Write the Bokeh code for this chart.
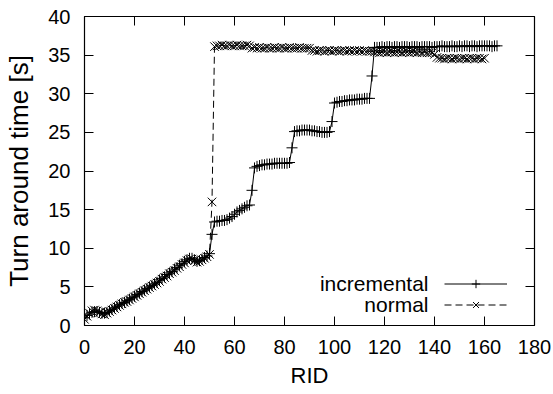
from bokeh.plotting import figure
from bokeh.models import (Range1d, FixedTicker, LinearAxis, Legend, LegendItem,
                          CustomJSTickFormatter, Label)
from bokeh.embed import file_html
from bokeh.resources import INLINE

# ---- data ----
incremental = [
    1.0, 1.3, 1.5, 1.7, 1.8, 1.8, 1.7, 1.6, 1.6, 1.7,          # 0-9
    1.9, 2.1, 2.3, 2.5, 2.7, 2.9, 3.0, 3.2, 3.4, 3.6,          # 10-19
    3.8, 4.0, 4.2, 4.4, 4.6, 4.8, 5.0, 5.2, 5.4, 5.6,          # 20-29
    5.9, 6.1, 6.3, 6.6, 6.8, 7.0, 7.3, 7.5, 7.8, 8.0,          # 30-39
    8.3, 8.5, 8.7, 8.7, 8.5, 8.3, 8.4, 8.6, 8.8, 9.0,          # 40-49
    9.3, 11.8, 13.4, 13.5, 13.5, 13.6, 13.6, 13.7, 13.9, 14.1,  # 50-59
    14.4, 14.7, 14.9, 15.1, 15.3, 15.5, 15.6, 17.5, 20.4, 20.6,  # 60-69
    20.7, 20.8, 20.8, 20.9, 20.9, 20.9, 21.0, 21.0, 21.0, 21.0,  # 70-79
    21.0, 21.0, 21.1, 23.0, 25.1, 25.2, 25.2, 25.3, 25.3, 25.3,  # 80-89
    25.3, 25.2, 25.2, 25.1, 25.1, 25.0, 25.0, 25.0, 25.1, 26.4,  # 90-99
    28.8, 28.9, 29.0, 29.0, 29.1, 29.1, 29.2, 29.2, 29.2, 29.3,  # 100-109
    29.3, 29.3, 29.4, 29.4, 29.4, 32.3, 36.0, 36.0, 36.0, 36.1,  # 110-119
    36.0, 36.1, 36.1, 36.0, 36.1, 36.1, 36.0, 36.1, 36.1, 36.1,  # 120-129
    36.0, 36.1, 36.1, 36.1, 36.0, 36.1, 36.1, 36.1, 36.1, 36.0,  # 130-139
    36.1, 36.1, 36.1, 36.2, 36.1, 36.1, 36.1, 36.2, 36.1, 36.1,  # 140-149
    36.2, 36.1, 36.2, 36.2, 36.1, 36.2, 36.2, 36.1, 36.2, 36.2,  # 150-159
    36.2, 36.2, 36.2, 36.1, 36.2, 36.2,                          # 160-165
]
normal = [
    0.8, 1.2, 1.6, 1.9, 2.0, 1.9, 1.7, 1.5, 1.4, 1.6,          # 0-9
    1.8, 2.0, 2.2, 2.4, 2.6, 2.8, 3.0, 3.1, 3.3, 3.5,          # 10-19
    3.7, 3.9, 4.1, 4.3, 4.5, 4.7, 4.9, 5.1, 5.3, 5.5,          # 20-29
    5.7, 6.0, 6.2, 6.4, 6.7, 6.9, 7.1, 7.4, 7.6, 7.9,          # 30-39
    8.1, 8.4, 8.6, 8.6, 8.4, 8.2, 8.3, 8.5, 8.7, 8.9,          # 40-49
    9.2, 16.0, 36.1, 36.2, 36.2, 36.3, 36.2, 36.2, 36.3, 36.2,  # 50-59
    36.2, 36.3, 36.2, 36.2, 36.2, 36.3, 36.2, 35.9, 36.0, 35.9,  # 60-69
    36.0, 35.9, 35.9, 36.0, 35.9, 35.9, 36.0, 35.9, 35.9, 36.0,  # 70-79
    35.9, 35.9, 36.0, 35.9, 35.9, 35.9, 36.0, 35.9, 35.9, 35.9,  # 80-89
    35.9, 35.6, 35.6, 35.5, 35.6, 35.6, 35.5, 35.6, 35.6, 35.5,  # 90-99
    35.6, 35.6, 35.5, 35.6, 35.6, 35.5, 35.6, 35.5, 35.6, 35.5,  # 100-109
    35.6, 35.5, 35.6, 35.5, 35.5, 35.5, 35.4, 35.4, 35.3, 35.4,  # 110-119
    35.4, 35.3, 35.4, 35.4, 35.3, 35.4, 35.4, 35.3, 35.4, 35.4,  # 120-129
    35.3, 35.4, 35.4, 35.3, 35.4, 35.3, 35.4, 35.3, 35.3, 35.3,  # 130-139
    35.1, 34.7, 34.6, 34.6, 34.5, 34.6, 34.6, 34.5, 34.6, 34.6,  # 140-149
    34.5, 34.6, 34.6, 34.5, 34.6, 34.6, 34.5, 34.6, 34.6, 34.5,  # 150-159
    34.6,                                                        # 160
]
rid_incremental = list(range(len(incremental)))
rid_normal = list(range(len(normal)))

x_ticks = [0, 20, 40, 60, 80, 100, 120, 140, 160, 180]
y_ticks = [0, 5, 10, 15, 20, 25, 30, 35, 40]
x_label = "RID"
y_label = "Turn around time [s]"
series_names = ["incremental", "normal"]

FONT = "Liberation Sans"

p = figure(width=553, height=394, output_backend="svg", toolbar_location=None,
           x_range=Range1d(0, 180), y_range=Range1d(0, 40),
           min_border_left=84, min_border_right=19, min_border_top=16,
           min_border_bottom=69, background_fill_color="white",
           border_fill_color="white")
p.grid.visible = False
p.outline_line_color = "black"
p.outline_line_width = 1.2

for ax, ticks in ((p.xaxis[0], x_ticks), (p.yaxis[0], y_ticks)):
    ax.ticker = FixedTicker(ticks=ticks)
    ax.axis_line_color = None
    ax.major_tick_in = 9
    ax.major_tick_out = 0
    ax.minor_tick_line_color = None
    ax.major_tick_line_color = "black"
    ax.major_label_text_font = FONT
    ax.major_label_text_font_size = "20px"
    ax.major_label_text_color = "black"
    ax.axis_label_text_font = FONT
    ax.axis_label_text_font_style = "normal"
    ax.axis_label_text_color = "black"

p.xaxis[0].axis_label = x_label
p.yaxis[0].axis_label = y_label
p.xaxis[0].axis_label_text_font_size = "22px"
p.yaxis[0].axis_label_text_font_size = "26px"
p.xaxis[0].major_label_standoff = 14
p.xaxis[0].axis_label_standoff = 6
p.yaxis[0].major_label_standoff = 14
p.yaxis[0].axis_label_standoff = 11

# mirrored ticks on top and right (no labels)
blank = CustomJSTickFormatter(code="return ''")
for place, ticks in (("above", x_ticks), ("right", y_ticks)):
    ax = LinearAxis(ticker=FixedTicker(ticks=ticks), formatter=blank)
    ax.axis_line_color = None
    ax.major_tick_in = 9
    ax.major_tick_out = 0
    ax.minor_tick_line_color = None
    ax.major_label_text_font_size = "0px"
    ax.major_label_standoff = 0
    p.add_layout(ax, place)

l1 = p.line(rid_incremental, incremental, line_color="black", line_width=1)
s1 = p.scatter(rid_incremental, incremental, marker="cross", size=11,
               line_color="black", line_width=1)
l2 = p.line(rid_normal, normal, line_color="black", line_width=1, line_dash="7 4")
s2 = p.scatter(rid_normal, normal, marker="x", size=12,
               line_color="black", line_width=1)

# legend samples (gnuplot style: text on the left, sample on the right)
legend = Legend(items=[LegendItem(label=" ", renderers=[l1, s1]),
                       LegendItem(label=" ", renderers=[l2, s2])],
                location=(360, 10), glyph_width=63, glyph_height=21,
                label_height=21, label_width=1, spacing=0, padding=0, margin=0,
                label_standoff=0, label_text_font_size="1px",
                border_line_alpha=0, background_fill_alpha=0)
p.add_layout(legend)

legend_text_x = 137.6
legend_text_y = [5.5, 2.75]
for name, ty in zip(series_names, legend_text_y):
    p.add_layout(Label(x=legend_text_x, y=ty, text=name, text_align="right",
                       text_baseline="middle", text_font=FONT,
                       text_font_size="21px", text_color="black"))

open("out.html", "w").write(file_html(p, INLINE))
